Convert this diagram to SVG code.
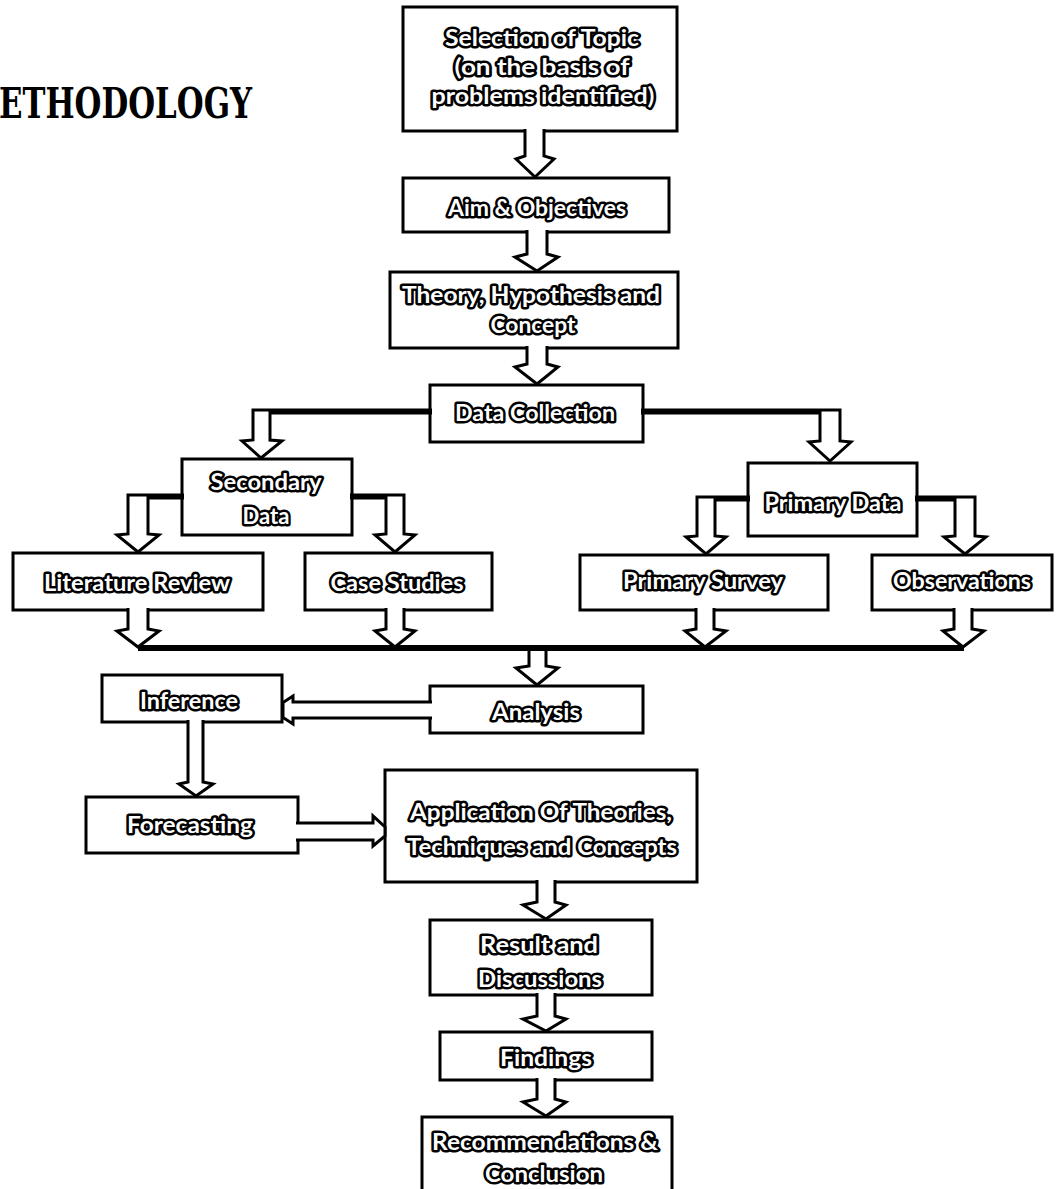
<svg xmlns="http://www.w3.org/2000/svg" width="1060" height="1189" viewBox="0 0 1060 1189">
<style>
.box{fill:#fff;stroke:#000;stroke-width:3}
.t{font-family:Lato,"Open Sans","Liberation Sans",sans-serif;font-weight:bold;font-size:23px;fill:#fff;stroke:#000;stroke-width:5;stroke-linejoin:round;paint-order:stroke fill;text-anchor:middle}
.arr{fill:#fff;stroke:#000;stroke-width:3;stroke-linejoin:miter}
.bus{fill:none;stroke:#000;stroke-width:6}
.title{font-family:"DejaVu Serif","Liberation Serif",serif;font-weight:bold;font-size:42px;fill:#000}
</style>
<rect width="1060" height="1189" fill="#fff"/>
<text class="title" x="-1" y="118" textLength="253" lengthAdjust="spacingAndGlyphs">ETHODOLOGY</text>

<g id="node-selection"><rect class="box" x="403" y="7" width="274" height="124"/>
<text class="t" x="542" y="46" textLength="194" lengthAdjust="spacingAndGlyphs">Selection  of Topic</text>
<text class="t" x="542" y="75" textLength="175" lengthAdjust="spacingAndGlyphs">(on the basis of</text>
<text class="t" x="543" y="104" textLength="223" lengthAdjust="spacingAndGlyphs">problems identified)</text></g>
<g id="node-aim"><rect class="box" x="403" y="178" width="266" height="54"/>
<text class="t" x="537" y="216" textLength="178" lengthAdjust="spacingAndGlyphs">Aim &amp; Objectives</text></g>
<g id="node-theory"><rect class="box" x="390" y="272" width="288" height="76"/>
<text class="t" x="531" y="303" textLength="258" lengthAdjust="spacingAndGlyphs">Theory, Hypothesis and</text>
<text class="t" x="533" y="333" textLength="85" lengthAdjust="spacingAndGlyphs">Concept</text></g>
<g id="node-datacollection"><rect class="box" x="430" y="385" width="213" height="57"/>
<text class="t" x="535" y="421" textLength="160" lengthAdjust="spacingAndGlyphs">Data Collection</text></g>
<g id="node-secondary"><rect class="box" x="182" y="459" width="170" height="76"/>
<text class="t" x="266" y="490" textLength="111" lengthAdjust="spacingAndGlyphs">Secondary</text>
<text class="t" x="266" y="524" textLength="47" lengthAdjust="spacingAndGlyphs">Data</text></g>
<g id="node-primary"><rect class="box" x="748" y="463" width="169" height="73"/>
<text class="t" x="833" y="511" textLength="137" lengthAdjust="spacingAndGlyphs">Primary Data</text></g>
<g id="node-literature"><rect class="box" x="13" y="553" width="250" height="57"/>
<text class="t" x="137" y="591" textLength="186" lengthAdjust="spacingAndGlyphs">Literature Review</text></g>
<g id="node-case"><rect class="box" x="305" y="553" width="187" height="57"/>
<text class="t" x="397" y="591" textLength="133" lengthAdjust="spacingAndGlyphs">Case Studies</text></g>
<g id="node-survey"><rect class="box" x="580" y="555" width="248" height="55"/>
<text class="t" x="703" y="589" textLength="160" lengthAdjust="spacingAndGlyphs">Primary Survey</text></g>
<g id="node-observations"><rect class="box" x="872" y="555" width="180" height="55"/>
<text class="t" x="962" y="589" textLength="138" lengthAdjust="spacingAndGlyphs">Observations</text></g>
<g id="node-analysis"><rect class="box" x="430" y="686" width="213" height="47"/>
<text class="t" x="536" y="720" textLength="88" lengthAdjust="spacingAndGlyphs">Analysis</text></g>
<g id="node-inference"><rect class="box" x="102" y="675" width="180" height="47"/>
<text class="t" x="189" y="709" textLength="98" lengthAdjust="spacingAndGlyphs">Inference</text></g>
<g id="node-forecasting"><rect class="box" x="86" y="797" width="212" height="56"/>
<text class="t" x="190" y="833" textLength="126" lengthAdjust="spacingAndGlyphs">Forecasting</text></g>
<g id="node-application"><rect class="box" x="385" y="770" width="312" height="112"/>
<text class="t" x="541" y="820" textLength="262" lengthAdjust="spacingAndGlyphs">Application Of Theories,</text>
<text class="t" x="542" y="855" textLength="270" lengthAdjust="spacingAndGlyphs">Techniques and Concepts</text></g>
<g id="node-result"><rect class="box" x="430" y="920" width="222" height="75"/>
<text class="t" x="539" y="953" textLength="118" lengthAdjust="spacingAndGlyphs">Result and</text>
<text class="t" x="540" y="987" textLength="124" lengthAdjust="spacingAndGlyphs">Discussions</text></g>
<g id="node-findings"><rect class="box" x="440" y="1032" width="212" height="48"/>
<text class="t" x="546" y="1066" textLength="92" lengthAdjust="spacingAndGlyphs">Findings</text></g>
<g id="node-recommendations"><rect class="box" x="422" y="1117" width="250" height="82"/>
<text class="t" x="545" y="1150" textLength="226" lengthAdjust="spacingAndGlyphs">Recommendations &amp;</text>
<text class="t" x="544" y="1182" textLength="118" lengthAdjust="spacingAndGlyphs">Conclusion</text></g>

<g id="connectors">
<path class="arr" d="M525,129 V156 L516,159 L535,177 L554,159 L544,156 V129"/>
<path class="arr" d="M527,230 V254 L515,257 L537,271 L558,257 L547,254 V230"/>
<path class="arr" d="M527,346 V364 L515,367 L537,384 L558,367 L547,364 V346"/>
<path class="arr" d="M432,410 H253 V440 L242,441 L261,458 L282,441 L270,440 V413 H432"/>
<path class="arr" d="M641,410 H840 V441 L851,442 L830,461 L809,442 L820,441 V413 H641"/>
<path class="arr" d="M184,495 H128 V534 L117,535 L138,552 L159,535 L148,534 V498 H184"/>
<path class="arr" d="M350,495 H404 V534 L415,535 L395,552 L375,535 L386,534 V498 H350"/>
<path class="arr" d="M750,497 H697 V536 L686,537 L706,554 L726,537 L715,536 V500 H750"/>
<path class="arr" d="M915,497 H975 V536 L986,537 L965,554 L944,537 L955,536 V500 H915"/>
<path class="bus" d="M138,648 H964"/>
<path class="arr" d="M128,608 V629 L117,631 L138,647 L159,631 L148,629 V608"/>
<path class="arr" d="M386,608 V629 L375,631 L395,647 L415,631 L404,629 V608"/>
<path class="arr" d="M696,608 V629 L685,631 L705,647 L726,631 L714,629 V608"/>
<path class="arr" d="M954,608 V629 L943,631 L963,647 L984,631 L972,629 V608"/>
<path class="arr" d="M529,651 V666 L516,668 L537,685 L558,668 L546,666 V651"/>
<path class="arr" d="M432,702 H293 V696 L283,702.5 V717.5 L293,724 V718 H432"/>
<path class="arr" d="M188,720 V782 L179,784 L196,796 L213,784 L203,782 V720"/>
<path class="arr" d="M296,823 H373 V816 L385,827 V836 L373,846 V840 H296"/>
<path class="arr" d="M537,880 V902 L523,905 L546,919 L566,905 L555,902 V880"/>
<path class="arr" d="M537,993 V1016 L523,1019 L546,1031 L566,1019 L555,1016 V993"/>
<path class="arr" d="M537,1078 V1099 L523,1102 L546,1116 L566,1102 L555,1099 V1078"/>
</g>
</svg>
